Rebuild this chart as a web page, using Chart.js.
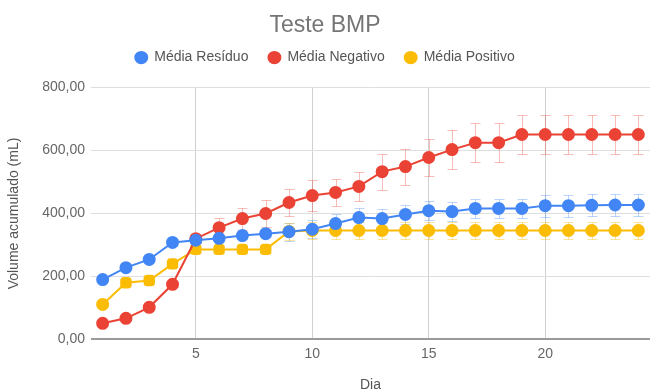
<!DOCTYPE html>
<html>
<head>
    <title>Teste BMP</title>
    <meta charset="utf-8" />
    <script src="https://cdn.jsdelivr.net/npm/chart.js@4.4.0/dist/chart.umd.min.js"></script>
    <style>
        html, body { margin: 0; padding: 0; background: #fff; }
        #wrap { width: 651px; height: 392px; }
    </style>
</head>
<body>
<div id="wrap"><canvas id="bmpChart"></canvas></div>

<script>
// days (x axis)
var dias = [1, 2, 3, 4, 5, 6, 7, 8, 9, 10, 11, 12, 13, 14, 15, 16, 17, 18, 19, 20, 21, 22, 23, 24];
var xTicks = [5, 10, 15, 20];
var yTicks = [0, 200, 400, 600, 800];

// series values (mL)
var mediaResiduo = [190, 228, 254, 308, 315, 321, 330, 336, 342, 350, 368, 387, 384, 397, 409, 406, 416, 416, 416, 425, 425, 426, 427, 427];
var mediaNegativo = [51, 67, 102, 175, 320, 355, 384, 400, 435, 457, 467, 486, 533, 549, 578, 603, 625, 625, 651, 651, 651, 651, 651, 651];
var mediaPositivo = [111, 180, 187, 240, 286, 286, 286, 286, 343, 346, 346, 346, 346, 346, 346, 346, 346, 346, 346, 346, 346, 346, 346, 346];

// error bar half-widths
var erroResiduo = [8, 8, 8, 10, 10, 10, 12, 12, 28, 28, 30, 30, 30, 30, 30, 30, 30, 30, 30, 35, 35, 35, 35, 35];
var erroNegativo = [5, 5, 8, 10, 15, 32, 35, 44, 44, 48, 44, 47, 57, 57, 60, 62, 62, 62, 63, 63, 63, 63, 63, 63];
var erroPositivo = [8, 8, 8, 10, 12, 12, 12, 12, 26, 26, 27, 27, 27, 27, 27, 27, 27, 27, 27, 27, 27, 27, 27, 27];

// marker shape for "Média Positivo" (squares on days 2-8)
var formaPositivo = ['circle', 'rectRounded', 'rectRounded', 'rectRounded', 'rectRounded', 'rectRounded', 'rectRounded', 'rectRounded',
    'circle', 'circle', 'circle', 'circle', 'circle', 'circle', 'circle', 'circle', 'circle', 'circle', 'circle', 'circle', 'circle', 'circle', 'circle', 'circle'];

var fonte = 'Liberation Sans, Arial, sans-serif';

function pontos(valores) {
    return dias.map(function(d, i) { return { x: d, y: valores[i] }; });
}

// draws the error bars behind the points, using the chart's own scales
var errorBars = {
    id: 'errorBars',
    beforeDatasetsDraw: function(chart) {
        var ctx = chart.ctx;
        var xs = chart.scales.x, ys = chart.scales.y;
        chart.data.datasets.forEach(function(ds) {
            if (!ds.erros) return;
            ctx.save();
            ctx.strokeStyle = ds.corErro;
            ctx.lineWidth = 1;
            ds.data.forEach(function(p, i) {
                var e = ds.erros[i];
                var px = Math.round(xs.getPixelForValue(p.x)) + 0.5;
                var top = Math.round(ys.getPixelForValue(p.y + e)) + 0.5;
                var bot = Math.round(ys.getPixelForValue(p.y - e)) + 0.5;
                ctx.beginPath();
                ctx.moveTo(px, top); ctx.lineTo(px, bot);
                ctx.moveTo(px - 5, top); ctx.lineTo(px + 5, top);
                ctx.moveTo(px - 5, bot); ctx.lineTo(px + 5, bot);
                ctx.stroke();
            });
            ctx.restore();
        });
    }
};

// extra space under the legend
var legendGap = {
    id: 'legendGap',
    beforeInit: function(chart) {
        var fit = chart.legend.fit;
        chart.legend.fit = function() {
            fit.call(this);
            this.height += 13;
        };
    }
};

var bmpChart = new Chart('bmpChart', {
    type: 'line',
    data: {
        datasets: [
            {
                label: 'Média Resíduo',
                data: pontos(mediaResiduo),
                erros: erroResiduo,
                corErro: 'rgba(66,133,244,0.35)',
                borderColor: '#4285F4',
                backgroundColor: '#4285F4',
                borderWidth: 2,
                pointRadius: 5.5,
                pointHoverRadius: 5.5
            },
            {
                label: 'Média Negativo',
                data: pontos(mediaNegativo),
                erros: erroNegativo,
                corErro: 'rgba(234,67,53,0.35)',
                borderColor: '#EA4335',
                backgroundColor: '#EA4335',
                borderWidth: 2,
                pointRadius: 5.5,
                pointHoverRadius: 5.5
            },
            {
                label: 'Média Positivo',
                data: pontos(mediaPositivo),
                erros: erroPositivo,
                corErro: 'rgba(251,188,4,0.4)',
                borderColor: '#FBBC04',
                backgroundColor: '#FBBC04',
                borderWidth: 2,
                pointRadius: 5.5,
                pointHoverRadius: 5.5,
                pointStyle: formaPositivo
            }
        ]
    },
    options: {
        responsive: true,
        maintainAspectRatio: false,
        animation: false,
        layout: { autoPadding: false, padding: { left: 0, right: 1, top: 0, bottom: 0 } },
        plugins: {
            title: {
                display: true,
                text: 'Teste BMP',
                color: '#757575',
                font: { family: fonte, size: 23, weight: 'normal' },
                padding: { top: 12, bottom: -9 }
            },
            legend: {
                labels: {
                    usePointStyle: true,
                    pointStyle: 'circle',
                    pointStyleWidth: 12,
                    boxHeight: 8,
                    color: '#555',
                    padding: 20,
                    font: { family: fonte, size: 14 }
                }
            },
            tooltip: { enabled: false }
        },
        scales: {
            x: {
                type: 'linear',
                min: 0.5,
                max: 24.5,
                afterBuildTicks: function(axis) {
                    axis.ticks = xTicks.map(function(v) { return { value: v }; });
                },
                afterFit: function(axis) {
                    axis.paddingLeft = 0;
                    axis.paddingRight = 0;
                },
                border: { display: false },
                grid: { color: '#d0d0d0', drawTicks: false },
                ticks: { color: '#666', padding: 6, font: { family: fonte, size: 14 } },
                title: {
                    display: true,
                    text: 'Dia',
                    color: '#555',
                    font: { family: fonte, size: 14 },
                    padding: { top: 9, bottom: -2 }
                }
            },
            y: {
                min: 0,
                max: 800,
                afterBuildTicks: function(axis) {
                    axis.ticks = yTicks.map(function(v) { return { value: v }; });
                },
                afterFit: function(axis) { axis.width = 91; },
                border: { display: false },
                grid: {
                    drawTicks: false,
                    color: function(c) { return c.tick && c.tick.value === 0 ? '#9a9a9a' : '#dedede'; },
                    lineWidth: function(c) { return c.tick && c.tick.value === 0 ? 2 : 1; }
                },
                ticks: {
                    color: '#666',
                    padding: 6,
                    font: { family: fonte, size: 14 },
                    callback: function(v) { return v.toFixed(2).replace('.', ','); }
                },
                title: {
                    display: true,
                    text: 'Volume acumulado (mL)',
                    color: '#555',
                    font: { family: fonte, size: 14 },
                    padding: { top: 6, bottom: 0 }
                }
            }
        }
    },
    plugins: [errorBars, legendGap]
});
</script>
</body>
</html>
